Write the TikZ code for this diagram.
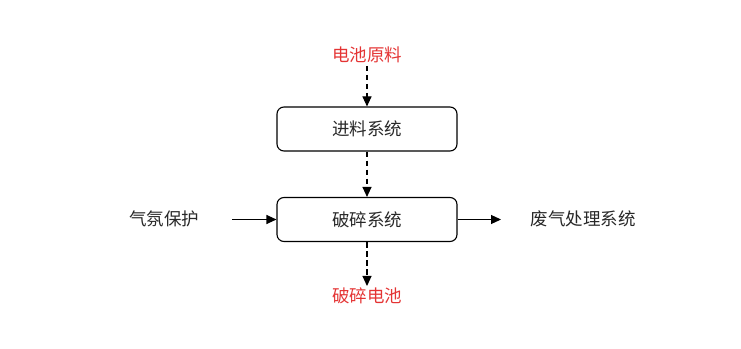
\documentclass[tikz,border=0pt]{standalone}
\usepackage{fontspec}
\setmainfont{Noto Sans CJK SC}
\usetikzlibrary{arrows.meta}
\definecolor{redtxt}{RGB}{228,52,52}
\definecolor{darktxt}{RGB}{40,40,40}
\begin{document}
\begin{tikzpicture}[x=1pt,y=1pt,
  procbox/.style={draw,line width=1.1pt,rounded corners=7pt,minimum width=180pt,minimum height=44pt,inner sep=0pt,font=\fontsize{17.5}{20}\selectfont,text=darktxt},
  lbl/.style={inner sep=0pt,font=\fontsize{17.5}{20}\selectfont,text=darktxt},
  redlbl/.style={inner sep=0pt,font=\fontsize{17.5}{20}\selectfont,text=redtxt},
  flow/.style={line width=1.1pt,-{Triangle[length=10pt,width=9pt]}},
  dflow/.style={flow,dash pattern=on 5.5pt off 3.5pt}]
\useasboundingbox (0,0) rectangle (741,348);
\node[procbox] (feed) at (367,219) {进料系统};
\node[procbox] (crush) at (367,128.5) {破碎系统};
\node[redlbl] (raw) at (367,293) {电池原料};
\node[redlbl] (out) at (367,52) {破碎电池};
\node[lbl] (gas) at (164,129) {气氛保护};
\node[lbl] (waste) at (583,129) {废气处理系统};
\coordinate (rawend) at (367,282);
\coordinate (outend) at (367,62);
\coordinate (gasend) at (232,128.5);
\coordinate (wasteend) at (501,128.5);
\draw[dflow] (rawend) -- (feed.north);
\draw[dflow] (feed.south) -- (crush.north);
\draw[dflow] (crush.south) -- (outend);
\draw[flow] (gasend) -- (crush.west);
\draw[flow] (crush.east) -- (wasteend);
\end{tikzpicture}
\end{document}
